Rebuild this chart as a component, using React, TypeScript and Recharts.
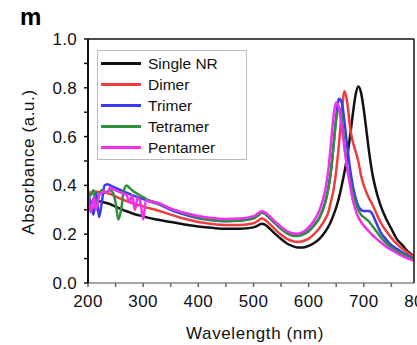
import { LineChart, Line, XAxis, YAxis } from 'recharts'

const wavelengths = [
  200, 205, 210, 215, 220, 225, 230, 235, 240, 245, 250, 255, 260, 265, 270, 275, 280, 285, 290, 295, 300, 305, 310,
  325, 350, 375, 400, 425, 450, 475, 500,
  510, 515, 520, 530, 540, 550, 560, 570, 580, 590, 600, 610, 620,
  630, 635, 640, 645, 650, 655, 660, 665, 670, 675, 680, 685, 690, 695, 700, 705, 710, 715, 720,
  730, 740, 750, 760, 770, 780, 790, 800,
]

const singleNR = [
  0.33, 0.33, 0.335, 0.335, 0.335, 0.333, 0.33, 0.327, 0.323, 0.318, 0.313, 0.308, 0.303, 0.298, 0.294, 0.29, 0.286, 0.282, 0.279, 0.276, 0.273, 0.27, 0.267,
  0.26, 0.25, 0.24, 0.232, 0.226, 0.222, 0.222, 0.228,
  0.238, 0.243, 0.24, 0.222, 0.2, 0.18, 0.163, 0.152, 0.146, 0.146, 0.152, 0.164, 0.182,
  0.21, 0.228, 0.25, 0.278, 0.31, 0.35, 0.4, 0.455, 0.52, 0.6, 0.69, 0.77, 0.805, 0.78, 0.71, 0.62, 0.53, 0.455, 0.4,
  0.32, 0.265, 0.222, 0.18, 0.155, 0.128, 0.112, 0.1,
]

const dimer = [
  0.36, 0.37, 0.375, 0.375, 0.372, 0.37, 0.37, 0.368, 0.365, 0.36, 0.355, 0.35, 0.345, 0.34, 0.336, 0.332, 0.328, 0.324, 0.32, 0.317, 0.314, 0.31, 0.307,
  0.298, 0.28, 0.263, 0.25, 0.242, 0.238, 0.238, 0.245,
  0.258, 0.264, 0.26, 0.24, 0.218, 0.198, 0.182, 0.172, 0.168, 0.172, 0.182, 0.2, 0.226,
  0.262, 0.285, 0.33, 0.38, 0.46, 0.57, 0.7, 0.786, 0.74, 0.64, 0.58, 0.54, 0.5, 0.44, 0.4, 0.37, 0.345, 0.325, 0.3,
  0.25, 0.215, 0.185, 0.16, 0.14, 0.123, 0.11, 0.1,
]

const trimer = [
  0.38, 0.32, 0.28, 0.37, 0.27, 0.33, 0.4, 0.405, 0.4, 0.395, 0.39, 0.385, 0.38, 0.375, 0.37, 0.365, 0.36, 0.356, 0.352, 0.348, 0.344, 0.34, 0.336,
  0.325, 0.3, 0.28, 0.265, 0.257, 0.253, 0.255, 0.265,
  0.28, 0.29, 0.285, 0.265, 0.243, 0.222, 0.205, 0.196, 0.195, 0.2, 0.214, 0.238, 0.27,
  0.33, 0.38, 0.45, 0.56, 0.68, 0.755, 0.74, 0.66, 0.56, 0.47, 0.4, 0.35, 0.315, 0.3, 0.295, 0.295, 0.295, 0.285, 0.26,
  0.21, 0.18, 0.155, 0.14, 0.125, 0.112, 0.1, 0.092,
]

const tetramer = [
  0.37, 0.36, 0.38, 0.31, 0.36, 0.38, 0.37, 0.375, 0.38, 0.37, 0.33, 0.26, 0.3, 0.38, 0.4, 0.39, 0.38, 0.372, 0.365, 0.358, 0.352, 0.345, 0.34,
  0.328, 0.305, 0.285, 0.268, 0.258, 0.254, 0.256, 0.265,
  0.28, 0.288, 0.284, 0.265, 0.243, 0.222, 0.205, 0.195, 0.193, 0.198, 0.212, 0.236, 0.268,
  0.33, 0.38, 0.45, 0.56, 0.67, 0.72, 0.68, 0.57, 0.47, 0.42, 0.37, 0.33, 0.3, 0.28, 0.27, 0.26, 0.25, 0.235, 0.22,
  0.19, 0.165, 0.145, 0.13, 0.118, 0.107, 0.098, 0.09,
]

const pentamer = [
  0.38, 0.29, 0.35, 0.3, 0.36, 0.37, 0.375, 0.37, 0.39, 0.385, 0.38, 0.375, 0.37, 0.365, 0.36, 0.33, 0.36, 0.3, 0.35, 0.33, 0.26, 0.34, 0.335,
  0.33, 0.305, 0.288, 0.275, 0.266, 0.262, 0.264, 0.274,
  0.288, 0.294, 0.29, 0.272, 0.25, 0.23, 0.214, 0.204, 0.202, 0.21, 0.228, 0.256, 0.3,
  0.38, 0.45, 0.56, 0.68, 0.74, 0.72, 0.64, 0.55, 0.47, 0.4, 0.34, 0.3, 0.27, 0.25, 0.235, 0.222, 0.21, 0.198, 0.187,
  0.168, 0.15, 0.135, 0.122, 0.11, 0.1, 0.092, 0.085,
]

const seriesNames = ['Single NR', 'Dimer', 'Trimer', 'Tetramer', 'Pentamer']
const seriesValues = [singleNR, dimer, trimer, tetramer, pentamer]
const seriesColors = ['#111111', '#f03c3c', '#3a3af0', '#2f8f3a', '#f030f0']

const xTicks = [200, 250, 300, 350, 400, 450, 500, 550, 600, 650, 700, 750, 800]
const yTicks = [0, 0.1, 0.2, 0.3, 0.4, 0.5, 0.6, 0.7, 0.8, 0.9, 1.0]

const rows = wavelengths.map((w, i) => {
  const r: Record<string, number> = { w }
  seriesValues.forEach((vals, k) => { r['s' + k] = vals[i] })
  return r
})

const FONT = '"Liberation Sans", Arial, sans-serif'

function XTick({ x, y, payload }: any) {
  if (payload.value % 100 !== 0) return null
  return (
    <text x={x} y={y} dy="0.71em" textAnchor="middle" fontSize={17} letterSpacing={0.4} fill="#111" fontFamily={FONT}>
      {payload.value}
    </text>
  )
}

function YTick({ x, y, payload }: any) {
  const v = Math.round(payload.value * 10)
  if (v % 2 !== 0) return null
  return (
    <text x={x} y={y} dy="0.355em" textAnchor="end" fontSize={17} letterSpacing={0.3} fill="#111" fontFamily={FONT}>
      {(v / 10).toFixed(1)}
    </text>
  )
}

function LegendBox() {
  return (
    <div style={{
      position: 'absolute', left: 97, top: 50, width: 148, height: 106,
      border: '1.5px solid #bbb', paddingTop: 2, boxSizing: 'content-box', background: '#fff',
      fontFamily: FONT, fontSize: 15.5, color: '#111',
    }}>
      {seriesNames.map((name, i) => (
        <div key={name} style={{ height: 21, display: 'flex', alignItems: 'center' }}>
          <div style={{ marginLeft: 3, width: 40, height: 3, background: seriesColors[i] }} />
          <span style={{ marginLeft: 7 }}>{name}</span>
        </div>
      ))}
    </div>
  )
}

export default function App() {
  return (
    <div style={{ position: 'absolute', left: 0, top: 0, width: 417, height: 345, overflow: 'hidden', background: '#fff' }}>
      <div style={{ position: 'absolute', left: 20, top: 5, lineHeight: 1, fontFamily: FONT, fontWeight: 'bold', fontSize: 24 }}>m</div>
      <LineChart width={440} height={345} data={rows} margin={{ top: 39, right: 26, bottom: 0, left: 0 }}>
        <XAxis
          dataKey="w" type="number" domain={[200, 791]} allowDataOverflow ticks={xTicks} interval={0}
          tick={<XTick />} tickSize={4} tickMargin={8} height={62}
          axisLine={{ stroke: '#888', strokeWidth: 1.5 }} tickLine={{ stroke: '#666', strokeWidth: 1.5 }}
          label={{ value: 'Wavelength (nm)', position: 'center', dx: 4, dy: 19, fontSize: 17, letterSpacing: 0.6, fill: '#111', fontFamily: FONT }}
        />
        <XAxis
          xAxisId="top" orientation="top" dataKey="w" type="number" domain={[200, 791]} allowDataOverflow ticks={xTicks} interval={0}
          mirror tick={false} tickSize={4} height={1}
          axisLine={{ stroke: '#111', strokeWidth: 1.5 }} tickLine={{ stroke: '#111', strokeWidth: 1.5 }}
        />
        <YAxis
          type="number" domain={[0, 1]} ticks={yTicks} interval={0} width={88}
          tick={<YTick />} tickSize={4} tickMargin={7}
          axisLine={{ stroke: '#111', strokeWidth: 2 }} tickLine={{ stroke: '#111', strokeWidth: 1.5 }}
          label={{ value: 'Absorbance (a.u.)', angle: -90, position: 'center', dx: -16, dy: 1, fontSize: 17, letterSpacing: 0.6, fill: '#111', fontFamily: FONT }}
        />
        <YAxis
          yAxisId="right" orientation="right" type="number" domain={[0, 1]} ticks={yTicks} interval={0} width={1}
          mirror tick={false} tickSize={4}
          axisLine={{ stroke: '#111', strokeWidth: 1.5 }} tickLine={{ stroke: '#111', strokeWidth: 1.5 }}
        />
        {seriesNames.map((name, k) => (
          <Line
            key={name} name={name} dataKey={'s' + k} type="monotone" stroke={seriesColors[k]}
            strokeWidth={2.5} dot={false} isAnimationActive={false}
          />
        ))}
      </LineChart>
      <LegendBox />
    </div>
  )
}
